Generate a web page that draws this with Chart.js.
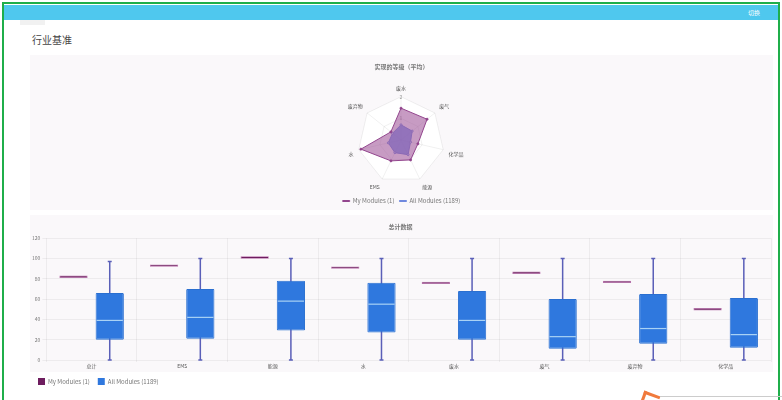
<!DOCTYPE html>
<html>
<head>
<meta charset="utf-8">
<script src="https://cdn.jsdelivr.net/npm/chart.js@4.4.0/dist/chart.umd.min.js"></script>
<style>
  body { margin: 0; width: 782px; height: 400px; overflow: hidden; background: #fff;
         font-family: "Noto Sans CJK SC", "Noto Sans", sans-serif; position: relative; }
  .frame { position: absolute; left: 2px; top: 2px; width: 774px; height: 420px;
           border: 2px solid #1fae4a; border-bottom: none; }
  .topbar { position: absolute; left: 4px; top: 5px; width: 774px; height: 15px; background: #4fc8ee; }
  .topbar span { position: absolute; right: 18px; top: 3px; font-size: 6px; color: #fff; }
  .tab { position: absolute; left: 20px; top: 20px; width: 25px; height: 5px; background: #f1f1f1; }
  h1 { position: absolute; left: 32px; top: 32px; margin: 0; font-size: 10px; font-weight: normal; color: #444; }
  .card { position: absolute; left: 30px; width: 743px; background: #faf8fa; }
  .holder { position: absolute; left: 30px; width: 743px; }
  .arrow { position: absolute; left: 641px; top: 393px; width: 14px; height: 14px;
           border-top: 3px solid #f07a3c; border-left: 3px solid #f07a3c; transform: rotate(20deg); }
  .line { position: absolute; left: 660px; top: 396px; width: 122px; height: 1px; background: #ccc; }
</style>
</head>
<body>
<div class="frame"></div>
<div class="topbar"><span>切换</span></div>
<div class="tab"></div>
<h1>行业基准</h1>
<div class="card" style="top:55px;height:155px"></div>
<div class="card" style="top:215px;height:157px"></div>
<div class="holder" style="top:55px;height:159px"><canvas id="radarChart"></canvas></div>
<div class="holder" style="top:215px;height:180px"><canvas id="boxChart"></canvas></div>
<div class="arrow"></div>
<div class="line"></div>

<script>
// radar data
const radarLabels = ['废水', '废气', '化学品', '能源', 'EMS', '水', '废弃物'];
const radarMine = [1.47, 1.54, 0.8, 1.02, 1.07, 1.9, 0.6];
const radarAll = [0.7, 0.66, 0.45, 0.75, 0.65, 0.6, 0.5];

// box data
const boxLabels = ['总计', 'EMS', '能源', '水', '废水', '废气', '废弃物', '化学品'];
const myValues = [82, 93, 101, 91, 76, 86, 77, 50];
const allMin = [0, 0, 0, 0, 0, 0, 0, 0];
const allQ1 = [20, 21, 29, 27, 20, 11, 16, 12];
const allMedian = [39, 42, 58, 55, 39, 23, 31, 25];
const allQ3 = [66, 70, 78, 76, 68, 60, 65, 61];
const allMax = [97, 100, 100, 100, 100, 100, 100, 100];

Chart.defaults.font.family = '"Noto Sans CJK SC", "Noto Sans", sans-serif';
Chart.defaults.font.size = 6;
Chart.defaults.color = '#777';
Chart.defaults.animation = false;

// white polygon behind radar
const radarBg = {
  id: 'radarBg',
  beforeDraw(chart) {
    const r = chart.scales.r;
    const ctx = chart.ctx;
    ctx.save();
    ctx.beginPath();
    for (let i = 0; i < radarLabels.length; i++) {
      const p = r.getPointPositionForValue(i, r.max);
      if (i === 0) ctx.moveTo(p.x, p.y); else ctx.lineTo(p.x, p.y);
    }
    ctx.closePath();
    ctx.fillStyle = '#fff';
    ctx.fill();
    ctx.restore();
  }
};

new Chart(document.getElementById('radarChart'), {
  type: 'radar',
  data: {
    labels: radarLabels,
    datasets: [{
      label: 'My Modules (1)',
      data: radarMine,
      backgroundColor: 'rgba(158, 82, 152, 0.58)',
      borderColor: '#93468e',
      borderWidth: 1,
      pointRadius: 1,
      pointBackgroundColor: '#8c3c87'
    }, {
      label: 'All Modules (1189)',
      data: radarAll,
      backgroundColor: 'rgba(100, 135, 230, 0.8)',
      borderColor: '#7089de',
      borderWidth: 1,
      pointRadius: 1,
      pointBackgroundColor: '#dfe6fb'
    }]
  },
  options: {
    responsive: true,
    maintainAspectRatio: false,
    plugins: {
      title: { display: true, text: '实现的等级（平均）', font: { size: 6 }, padding: { top: 8, bottom: 12 } },
      legend: {
        position: 'bottom',
        labels: { boxWidth: 7, boxHeight: 1, font: { size: 6 }, padding: 5 }
      },
      tooltip: { enabled: false }
    },
    scales: {
      r: {
        min: 0,
        max: 2,
        ticks: { stepSize: 1, font: { size: 5 }, backdropColor: 'transparent', color: '#999' },
        grid: { color: 'rgba(0,0,0,0.06)' },
        angleLines: { color: 'rgba(0,0,0,0.06)' },
        pointLabels: { font: { size: 5 }, color: '#555', padding: 1 }
      }
    }
  },
  plugins: [radarBg]
});

// whiskers and medians for the box dataset
const boxParts = {
  id: 'boxParts',
  beforeDatasetsDraw(chart) {
    const meta = chart.getDatasetMeta(1);
    const y = chart.scales.y;
    const ctx = chart.ctx;
    ctx.save();
    ctx.strokeStyle = '#5a5fb8';
    ctx.lineWidth = 1.5;
    meta.data.forEach((bar, i) => {
      const top = y.getPixelForValue(allMax[i]);
      const bot = y.getPixelForValue(allMin[i]);
      ctx.beginPath();
      ctx.moveTo(bar.x, top);
      ctx.lineTo(bar.x, bot);
      ctx.moveTo(bar.x - 2, top);
      ctx.lineTo(bar.x + 2, top);
      ctx.moveTo(bar.x - 2, bot);
      ctx.lineTo(bar.x + 2, bot);
      ctx.stroke();
    });
    ctx.restore();
  },
  afterDatasetsDraw(chart) {
    const meta = chart.getDatasetMeta(1);
    const y = chart.scales.y;
    const ctx = chart.ctx;
    ctx.save();
    ctx.strokeStyle = '#a9d2f5';
    ctx.lineWidth = 1.2;
    meta.data.forEach((bar, i) => {
      const m = y.getPixelForValue(allMedian[i]);
      ctx.beginPath();
      ctx.moveTo(bar.x - bar.width / 2 + 1, m);
      ctx.lineTo(bar.x + bar.width / 2 - 1, m);
      ctx.stroke();
    });
    ctx.restore();
  }
};

new Chart(document.getElementById('boxChart'), {
  type: 'bar',
  data: {
    labels: boxLabels,
    datasets: [{
      label: 'My Modules (1)',
      data: myValues.map(v => [v - 1.2, v + 1.2]),
      backgroundColor: '#6e1d5f',
      borderColor: '#b86fab',
      borderWidth: 0.8,
      borderSkipped: false,
      categoryPercentage: 0.8,
      barPercentage: 0.78
    }, {
      label: 'All Modules (1189)',
      data: allQ1.map((q, i) => [q, allQ3[i]]),
      backgroundColor: '#2f78de',
      borderColor: '#2a6fd0',
      borderWidth: 1,
      borderRadius: 1,
      borderSkipped: false,
      categoryPercentage: 0.8,
      barPercentage: 0.78
    }]
  },
  options: {
    responsive: true,
    maintainAspectRatio: false,
    layout: { padding: { right: 2, left: 0 } },
    plugins: {
      title: { display: true, text: '总计数据', font: { size: 6 }, padding: { top: 8, bottom: 8 } },
      legend: {
        position: 'bottom',
        align: 'start',
        labels: {
          boxWidth: 7, boxHeight: 7, font: { size: 6 }, padding: 8,
          generateLabels(chart) {
            return chart.data.datasets.map((ds, i) => ({
              text: ds.label, fillStyle: i === 0 ? '#6e1d5f' : '#2f78de',
              strokeStyle: i === 0 ? '#6e1d5f' : '#2f78de', lineWidth: 0, datasetIndex: i, fontColor: '#777'
            }));
          }
        }
      },
      tooltip: { enabled: false }
    },
    scales: {
      x: {
        grid: { color: 'rgba(0,0,0,0.05)', offset: true, tickLength: 2 },
        border: { display: false },
        ticks: { font: { size: 5 }, color: '#555', padding: 1 }
      },
      y: {
        min: 0,
        max: 120,
        ticks: { stepSize: 20, font: { size: 5 }, color: '#777', padding: 2 },
        grid: { color: 'rgba(0,0,0,0.05)', tickLength: 4 },
        border: { display: false }
      }
    }
  },
  plugins: [boxParts]
});
</script>
</body>
</html>
